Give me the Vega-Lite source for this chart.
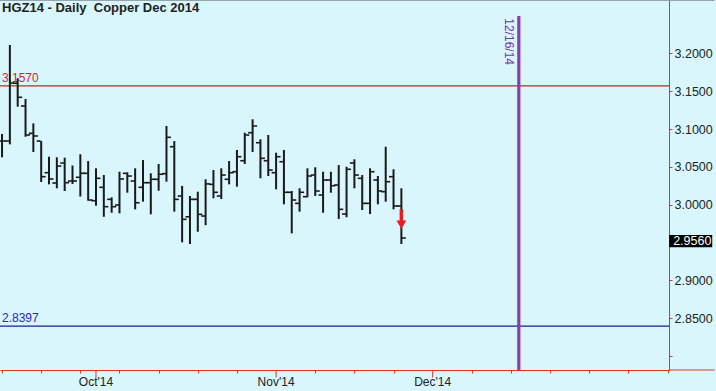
{
  "$schema": "https://vega.github.io/schema/vega-lite/v6.json",
  "width": 669,
  "height": 370,
  "autosize": {"type": "none"},
  "padding": {"left": 0, "top": 0, "right": 47, "bottom": 21},
  "background": "#D9F6FC",
  "config": {"view": {"stroke": null, "fill": "#D9F6FC"}, "font": "Liberation Sans"},
  "data": {
    "values": [
      {"i": -12, "date": "2014-09-15", "o": 3.0841, "h": 3.0934, "l": 3.0626, "c": 3.0841},
      {"i": -11, "date": "2014-09-16", "o": 3.0841, "h": 3.2110, "l": 3.0798, "c": 3.1608},
      {"i": -10, "date": "2014-09-17", "o": 3.1604, "h": 3.1670, "l": 3.1295, "c": 3.1419},
      {"i": -9, "date": "2014-09-18", "o": 3.1304, "h": 3.1396, "l": 3.0898, "c": 3.0921},
      {"i": -8, "date": "2014-09-19", "o": 3.0943, "h": 3.1075, "l": 3.0696, "c": 3.0908},
      {"i": -7, "date": "2014-09-22", "o": 3.0841, "h": 3.0841, "l": 3.0300, "c": 3.0370},
      {"i": -6, "date": "2014-09-23", "o": 3.0423, "h": 3.0634, "l": 3.0269, "c": 3.0340},
      {"i": -5, "date": "2014-09-24", "o": 3.0287, "h": 3.0626, "l": 3.0217, "c": 3.0511},
      {"i": -4, "date": "2014-09-25", "o": 3.0551, "h": 3.0621, "l": 3.0181, "c": 3.0291},
      {"i": -3, "date": "2014-09-26", "o": 3.0313, "h": 3.0518, "l": 3.0273, "c": 3.0313},
      {"i": -2, "date": "2014-09-29", "o": 3.0362, "h": 3.0666, "l": 3.0108, "c": 3.0415},
      {"i": -1, "date": "2014-09-30", "o": 3.0415, "h": 3.0577, "l": 3.0053, "c": 3.0062},
      {"i": 0, "date": "2014-10-01", "o": 3.0053, "h": 3.0481, "l": 2.9987, "c": 3.0349},
      {"i": 1, "date": "2014-10-02", "o": 3.0230, "h": 3.0392, "l": 2.9841, "c": 2.9974},
      {"i": 2, "date": "2014-10-03", "o": 3.0071, "h": 3.0098, "l": 2.9894, "c": 2.9974},
      {"i": 3, "date": "2014-10-06", "o": 2.9996, "h": 3.0436, "l": 2.9886, "c": 3.0340},
      {"i": 4, "date": "2014-10-07", "o": 3.0415, "h": 3.0428, "l": 3.0159, "c": 3.0379},
      {"i": 5, "date": "2014-10-08", "o": 3.0313, "h": 3.0481, "l": 2.9939, "c": 3.0026},
      {"i": 6, "date": "2014-10-09", "o": 3.0230, "h": 3.0590, "l": 3.0040, "c": 3.0291},
      {"i": 7, "date": "2014-10-10", "o": 3.0291, "h": 3.0415, "l": 2.9873, "c": 3.0336},
      {"i": 8, "date": "2014-10-13", "o": 3.0336, "h": 3.0538, "l": 3.0185, "c": 3.0402},
      {"i": 9, "date": "2014-10-14", "o": 3.0410, "h": 3.1040, "l": 3.0304, "c": 3.0890},
      {"i": 10, "date": "2014-10-15", "o": 3.0766, "h": 3.0841, "l": 2.9908, "c": 3.0071},
      {"i": 11, "date": "2014-10-16", "o": 3.0115, "h": 3.0249, "l": 2.9503, "c": 2.9807},
      {"i": 12, "date": "2014-10-17", "o": 2.9841, "h": 3.0115, "l": 2.9481, "c": 3.0071},
      {"i": 13, "date": "2014-10-20", "o": 3.0071, "h": 3.0172, "l": 2.9643, "c": 2.9873},
      {"i": 14, "date": "2014-10-21", "o": 2.9851, "h": 3.0336, "l": 2.9730, "c": 3.0275},
      {"i": 15, "date": "2014-10-22", "o": 3.0269, "h": 3.0458, "l": 3.0085, "c": 3.0164},
      {"i": 16, "date": "2014-10-23", "o": 3.0115, "h": 3.0481, "l": 3.0075, "c": 3.0392},
      {"i": 17, "date": "2014-10-24", "o": 3.0336, "h": 3.0577, "l": 3.0269, "c": 3.0423},
      {"i": 18, "date": "2014-10-27", "o": 3.0436, "h": 3.0723, "l": 3.0238, "c": 3.0634},
      {"i": 19, "date": "2014-10-28", "o": 3.0581, "h": 3.0951, "l": 3.0538, "c": 3.0921},
      {"i": 20, "date": "2014-10-29", "o": 3.0951, "h": 3.1128, "l": 3.0696, "c": 3.1040},
      {"i": 21, "date": "2014-10-30", "o": 3.0819, "h": 3.0864, "l": 3.0349, "c": 3.0613},
      {"i": 22, "date": "2014-10-31", "o": 3.0581, "h": 3.0921, "l": 3.0379, "c": 3.0458},
      {"i": 23, "date": "2014-11-03", "o": 3.0423, "h": 3.0687, "l": 3.0203, "c": 3.0634},
      {"i": 24, "date": "2014-11-04", "o": 3.0568, "h": 3.0723, "l": 3.0005, "c": 3.0164},
      {"i": 25, "date": "2014-11-05", "o": 3.0164, "h": 3.0181, "l": 2.9622, "c": 3.0062},
      {"i": 26, "date": "2014-11-06", "o": 3.0018, "h": 3.0217, "l": 2.9908, "c": 3.0164},
      {"i": 27, "date": "2014-11-07", "o": 3.0106, "h": 3.0481, "l": 3.0098, "c": 3.0379},
      {"i": 28, "date": "2014-11-10", "o": 3.0392, "h": 3.0494, "l": 3.0115, "c": 3.0181},
      {"i": 29, "date": "2014-11-11", "o": 3.0128, "h": 3.0436, "l": 2.9894, "c": 3.0326},
      {"i": 30, "date": "2014-11-12", "o": 3.0326, "h": 3.0436, "l": 3.0159, "c": 3.0251},
      {"i": 31, "date": "2014-11-13", "o": 3.0260, "h": 3.0524, "l": 2.9811, "c": 2.9939},
      {"i": 32, "date": "2014-11-14", "o": 2.9877, "h": 3.0502, "l": 2.9834, "c": 3.0468},
      {"i": 33, "date": "2014-11-17", "o": 3.0551, "h": 3.0600, "l": 3.0217, "c": 3.0392},
      {"i": 34, "date": "2014-11-18", "o": 3.0349, "h": 3.0392, "l": 2.9930, "c": 3.0018},
      {"i": 35, "date": "2014-11-19", "o": 3.0018, "h": 3.0481, "l": 2.9877, "c": 3.0436},
      {"i": 36, "date": "2014-11-20", "o": 3.0326, "h": 3.0379, "l": 3.0005, "c": 3.0181},
      {"i": 37, "date": "2014-11-21", "o": 3.0172, "h": 3.0766, "l": 3.0040, "c": 3.0304},
      {"i": 38, "date": "2014-11-24", "o": 3.0370, "h": 3.0468, "l": 2.9939, "c": 2.9983},
      {"i": 39, "date": "2014-11-25", "o": 2.9983, "h": 3.0217, "l": 2.9481, "c": 2.9560}
    ]
  },
  "layer": [
    {
      "data": {"values": [{}]},
      "mark": {"type": "rule", "color": "#CC2222", "strokeWidth": 1.2},
      "encoding": {
        "y": {"datum": 3.157, "type": "quantitative", "scale": {"domain": [2.7817, 3.2704], "nice": false, "zero": false},
          "axis": {"orient": "right", "values": [2.8, 2.85, 2.9, 3.0, 3.05, 3.1, 3.15, 3.2],
            "labelExpr": "datum.value < 2.82 ? '' : format(datum.value, '.4f')",
            "title": null, "grid": false, "tickSize": 3, "tickColor": "#E03030", "domainColor": "#E03030",
            "labelColor": "#222222", "labelFontSize": 12.5, "labelPadding": 2, "labelFont": "Liberation Sans", "labelBaseline": "middle"}},
        "x": {"datum": -12.26, "type": "quantitative", "scale": {"domain": [-12.26, 73.18], "nice": false, "zero": false},
          "axis": {"orient": "bottom", "values": [-12, -7, -2, 3, 8, 13, 18, 28, 33, 38, 48, 53, 58, 63, 68, 73],
            "labels": false, "title": null, "grid": false, "tickSize": 3,
            "tickColor": "#E03030", "domainColor": "#E03030"}},
        "x2": {"datum": 73.18}
      }
    },
    {
      "data": {"values": [{"m": 0, "t": "Oct'14"}, {"m": 23, "t": "Nov'14"}, {"m": 43, "t": "Dec'14"}]},
      "layer": [
        {
          "mark": {"type": "rule", "color": "#E03030", "strokeWidth": 1},
          "encoding": {"x": {"field": "m", "type": "quantitative"}, "y": {"datum": 2.7817, "type": "quantitative"}, "y2": {"datum": 2.7717}}
        },
        {
          "mark": {"type": "text", "align": "center", "baseline": "top", "dy": 7, "fontSize": 12, "font": "Liberation Sans", "color": "#222222"},
          "encoding": {"x": {"field": "m", "type": "quantitative"}, "y": {"datum": 2.7817, "type": "quantitative"}, "text": {"field": "t"}}
        }
      ]
    },
    {
      "data": {"values": [{}]},
      "mark": {"type": "rule", "color": "#1C1C80", "strokeWidth": 1.2},
      "encoding": {"y": {"datum": 2.8397, "type": "quantitative"}, "x": {"datum": -12.26, "type": "quantitative"}, "x2": {"datum": 73.18}}
    },
    {
      "data": {"values": [{}]},
      "mark": {"type": "rule", "color": "#E03030", "strokeWidth": 1},
      "encoding": {"y": {"datum": 2.7817, "type": "quantitative"}, "x": {"datum": 73.18, "type": "quantitative"}, "x2": {"datum": 79}}
    },
    {
      "data": {"values": [{}]},
      "mark": {"type": "rule", "color": "#7F8A8C", "strokeWidth": 1.5},
      "encoding": {"y": {"datum": 3.2704, "type": "quantitative"}, "x": {"datum": -12.26, "type": "quantitative"}, "x2": {"datum": 79}}
    },
    {
      "data": {"values": [{}]},
      "mark": {"type": "text", "text": "HGZ14 - Daily\u00a0 Copper Dec 2014", "align": "left", "baseline": "top", "dx": 2, "dy": 2, "fontSize": 13, "fontWeight": "bold", "font": "Liberation Sans", "color": "#222222"},
      "encoding": {"x": {"datum": -12.26, "type": "quantitative"}, "y": {"datum": 3.2704, "type": "quantitative"}}
    },
    {
      "data": {"values": [{}]},
      "mark": {"type": "rule", "color": "#8B3DAF", "strokeWidth": 3.2},
      "encoding": {"x": {"datum": 54, "type": "quantitative"}, "y": {"datum": 3.2493, "type": "quantitative"}, "y2": {"datum": 2.7817}}
    },
    {
      "data": {"values": [{}]},
      "mark": {"type": "text", "text": "12/16/14", "angle": 90, "align": "left", "baseline": "middle", "xOffset": -9.5, "fontSize": 12, "font": "Liberation Sans", "color": "#7A3499"},
      "encoding": {"x": {"datum": 54, "type": "quantitative"}, "y": {"datum": 3.2462, "type": "quantitative"}}
    },
    {
      "data": {"values": [{}]},
      "mark": {"type": "text", "text": "3.1570", "align": "left", "baseline": "alphabetic", "dx": 2, "dy": -4, "fontSize": 12, "font": "Liberation Sans", "color": "#D02828"},
      "encoding": {"x": {"datum": -12.26, "type": "quantitative"}, "y": {"datum": 3.157, "type": "quantitative"}}
    },
    {
      "data": {"values": [{}]},
      "mark": {"type": "text", "text": "2.8397", "align": "left", "baseline": "alphabetic", "dx": 2, "dy": -4.5, "fontSize": 12, "font": "Liberation Sans", "color": "#2828C0"},
      "encoding": {"x": {"datum": -12.26, "type": "quantitative"}, "y": {"datum": 2.8397, "type": "quantitative"}}
    },
    {
      "mark": {"type": "rule", "color": "#1A1A1A", "strokeWidth": 2},
      "encoding": {"x": {"field": "i", "type": "quantitative"}, "y": {"field": "l", "type": "quantitative"}, "y2": {"field": "h"}}
    },
    {
      "mark": {"type": "tick", "orient": "horizontal", "size": 4, "thickness": 1.6, "xOffset": -2.5, "color": "#1A1A1A", "opacity": 1},
      "encoding": {"x": {"field": "i", "type": "quantitative"}, "y": {"field": "o", "type": "quantitative"}}
    },
    {
      "mark": {"type": "tick", "orient": "horizontal", "size": 4, "thickness": 1.6, "xOffset": 2.5, "color": "#1A1A1A", "opacity": 1},
      "encoding": {"x": {"field": "i", "type": "quantitative"}, "y": {"field": "c", "type": "quantitative"}}
    },
    {
      "data": {"values": [{}]},
      "mark": {"type": "rule", "color": "#EE1C1C", "strokeWidth": 3.5},
      "encoding": {"x": {"datum": 39, "type": "quantitative"}, "y": {"datum": 2.9939, "type": "quantitative"}, "y2": {"datum": 2.9775}}
    },
    {
      "data": {"values": [{}]},
      "mark": {"type": "point", "shape": "triangle-down", "size": 95, "filled": true, "color": "#EE1C1C", "opacity": 1},
      "encoding": {"x": {"datum": 39, "type": "quantitative"}, "y": {"datum": 2.9735, "type": "quantitative"}}
    },
    {
      "data": {"values": [{}]},
      "mark": {"type": "rect", "color": "#000000"},
      "encoding": {"x": {"datum": 73.2, "type": "quantitative"}, "x2": {"datum": 78.7}, "y": {"datum": 2.96, "type": "quantitative"}, "y2": {"datum": 2.9438}}
    },
    {
      "data": {"values": [{}]},
      "mark": {"type": "text", "text": "2.9560", "align": "left", "baseline": "middle", "xOffset": 4, "fontSize": 12.5, "font": "Liberation Sans", "color": "#FFFFFF"},
      "encoding": {"x": {"datum": 73.2, "type": "quantitative"}, "y": {"datum": 2.9519, "type": "quantitative"}}
    }
  ]
}
